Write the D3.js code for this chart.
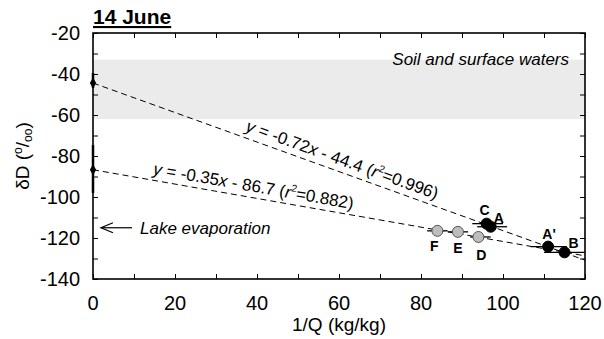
<!DOCTYPE html>
<html>
<head>
<meta charset="utf-8">
<script src="https://cdn.jsdelivr.net/npm/d3@7"></script>
<style>
  body { margin: 0; background: #fff; }
  svg { font-family: "Liberation Sans", Arial, sans-serif; }
</style>
</head>
<body>
<svg id="chart" width="604" height="339"></svg>
<script>
// data
const pointLabels = ['C', 'A', "A'", 'B', 'F', 'E', 'D']
const pointX = [96, 97, 111, 115, 84, 89, 94]
const pointY = [-113, -114.5, -124.2, -127, -116.5, -117, -119.5]
const pointXLo = [92.5, 93.7, 106.7, 110, 81.5, 86.6, 92]
const pointXHi = [100, 101, 115.6, 121, 86.5, 91.5, 97]
const pointGroup = ['black', 'black', 'black', 'black', 'gray', 'gray', 'gray']

const slopes = [-0.72, -0.35]
const intercepts = [-44.4, -86.7]
const interceptLo = [-39.5, -74.6]
const interceptHi = [-46.8, -98]
const fitLabels = ['-0.72x - 44.4 (', '-0.35x - 86.7 (']
const fitR2 = ['0.996', '0.882']

const bandRange = [-33, -62]
const xTicks = [0, 20, 40, 60, 80, 100, 120]
const yTicks = [-20, -40, -60, -80, -100, -120, -140]
const lakeEvapY = -115

let svg = d3.select('#chart')
let m = {l: 93, r: 585, t: 33, b: 279}
let x = d3.scaleLinear().domain([0, 120]).range([m.l, m.r])
let y = d3.scaleLinear().domain([-140, -20]).range([m.b, m.t])

svg.append('defs').append('clipPath').attr('id', 'clip')
  .append('rect').attr('x', m.l).attr('y', m.t).attr('width', m.r - m.l).attr('height', m.b - m.t)

// gray band
svg.append('rect')
  .attr('x', m.l).attr('width', m.r - m.l)
  .attr('y', y(bandRange[0])).attr('height', y(bandRange[1]) - y(bandRange[0]))
  .attr('fill', '#ebebeb')

svg.append('text').text('Soil and surface waters')
  .attr('x', 569).attr('y', 65).attr('text-anchor', 'end')
  .attr('font-size', 17).attr('font-style', 'italic')

// fit lines
let plot = svg.append('g').attr('clip-path', 'url(#clip)')
slopes.forEach((s, i) => {
  plot.append('line')
    .attr('x1', x(0)).attr('y1', y(intercepts[i]))
    .attr('x2', x(120)).attr('y2', y(s * 120 + intercepts[i]))
    .attr('stroke', '#000').attr('stroke-width', 1)
    .attr('stroke-dasharray', '6,4')
})

// fit equations, rotated along the lines
const labelAt = [37, 14.5]
const labelLift = [7, 6]
slopes.forEach((s, i) => {
  let lx = labelAt[i]
  let px = x(lx), py = y(s * lx + intercepts[i]) - labelLift[i]
  let ang = Math.atan2(y(s * 10) - y(0), x(10) - x(0)) * 180 / Math.PI
  let t = svg.append('text')
    .attr('transform', `translate(${px},${py}) rotate(${ang})`)
    .attr('font-size', 17)
  let parts = fitLabels[i].split('x')
  t.append('tspan').attr('font-style', 'italic').text('y')
  t.append('tspan').text(' = ' + parts[0])
  t.append('tspan').attr('font-style', 'italic').text('x')
  t.append('tspan').text(parts[1])
  t.append('tspan').attr('font-style', 'italic').text('r')
  t.append('tspan').attr('font-size', 10).attr('dy', -7).text('2')
  t.append('tspan').attr('dy', 7).text('=' + fitR2[i] + ')')
})

// intercept markers with vertical error bars
intercepts.forEach((v, i) => {
  svg.append('line')
    .attr('x1', x(0)).attr('x2', x(0))
    .attr('y1', y(interceptLo[i])).attr('y2', y(interceptHi[i]))
    .attr('stroke', '#000').attr('stroke-width', 2.5)
  svg.append('path')
    .attr('d', d3.symbol().type(d3.symbolDiamond).size(34)())
    .attr('transform', `translate(${x(0)},${y(v)})`)
    .attr('fill', '#000')
})

// horizontal error bars and points
let pts = pointLabels.map((lab, i) => ({
  lab: lab, x: pointX[i], y: pointY[i], lo: pointXLo[i], hi: pointXHi[i], g: pointGroup[i]
}))
plot.selectAll('.err').data(pts).enter().append('line')
  .attr('x1', d => x(d.lo)).attr('x2', d => x(d.hi))
  .attr('y1', d => y(d.y)).attr('y2', d => y(d.y))
  .attr('stroke', '#000').attr('stroke-width', 1.3)
svg.selectAll('.pt').data(pts).enter().append('circle')
  .attr('cx', d => x(d.x)).attr('cy', d => y(d.y))
  .attr('r', 5.5)
  .attr('fill', d => d.g == 'black' ? '#000' : '#bdbdbd')
  .attr('stroke', d => d.g == 'black' ? '#000' : '#555')
  .attr('stroke-width', 1)

const labelOff = {C: [-2, -9], A: [8, -4], "A'": [1, -8], B: [9, -4], F: [-3, 20], E: [0, 21], D: [3, 23]}
svg.selectAll('.lab').data(pts).enter().append('text')
  .attr('x', d => x(d.x) + labelOff[d.lab][0])
  .attr('y', d => y(d.y) + labelOff[d.lab][1])
  .attr('text-anchor', 'middle')
  .attr('font-size', 14).attr('font-weight', 'bold')
  .text(d => d.lab)

// lake evaporation arrow
let ay = y(lakeEvapY)
svg.append('line')
  .attr('x1', 132).attr('x2', 101)
  .attr('y1', ay).attr('y2', ay)
  .attr('stroke', '#000').attr('stroke-width', 1.2)
svg.append('path')
  .attr('d', `M113,${ay - 5} L101,${ay} L113,${ay + 5}`)
  .attr('fill', 'none').attr('stroke', '#000').attr('stroke-width', 1.2)
svg.append('text').text('Lake evaporation')
  .attr('x', 140).attr('y', ay + 6)
  .attr('font-size', 17).attr('font-style', 'italic')

// axes with inward ticks
let minorX = d3.range(0, 121, 10)
let minorY = d3.range(-140, -19, 10)
svg.append('g').attr('transform', `translate(0,${m.b})`)
  .call(d3.axisTop(x).tickValues(minorX).tickSize(5).tickFormat(''))
svg.append('g').attr('transform', `translate(0,${m.t})`)
  .call(d3.axisBottom(x).tickValues(minorX).tickSize(5).tickFormat(''))
svg.append('g').attr('transform', `translate(${m.l},0)`)
  .call(d3.axisRight(y).tickValues(minorY).tickSize(5).tickFormat(''))
svg.append('g').attr('transform', `translate(${m.r},0)`)
  .call(d3.axisLeft(y).tickValues(minorY).tickSize(5).tickFormat(''))
svg.selectAll('.domain').remove()
svg.selectAll('.tick line').attr('stroke', '#000').attr('stroke-width', 1)

svg.append('rect')
  .attr('x', m.l).attr('y', m.t).attr('width', m.r - m.l).attr('height', m.b - m.t)
  .attr('fill', 'none').attr('stroke', '#000').attr('stroke-width', 1.6)

svg.selectAll('.xt').data(xTicks).enter().append('text')
  .attr('x', d => x(d)).attr('y', 310)
  .attr('text-anchor', 'middle').attr('font-size', 20)
  .text(d => d)
svg.selectAll('.yt').data(yTicks).enter().append('text')
  .attr('x', 80).attr('y', d => y(d) + 7)
  .attr('text-anchor', 'end').attr('font-size', 20)
  .text(d => d)

svg.append('text').text('1/Q (kg/kg)')
  .attr('x', x(60)).attr('y', 331)
  .attr('text-anchor', 'middle').attr('font-size', 19)

let yl = svg.append('text')
  .attr('transform', `translate(29,${(m.t + m.b) / 2}) rotate(-90)`)
  .attr('text-anchor', 'middle').attr('font-size', 19)
yl.append('tspan').text('δD (')
yl.append('tspan').attr('font-size', 12).attr('dy', -7).text('o')
yl.append('tspan').attr('dy', 7).text('/')
yl.append('tspan').attr('font-size', 12).attr('dy', 3).text('oo')
yl.append('tspan').attr('dy', -3).text(')')

// title
svg.append('text').text('14 June')
  .attr('x', m.l).attr('y', 24)
  .attr('font-size', 21).attr('font-weight', 'bold')
  .attr('text-decoration', 'underline')
</script>
</body>
</html>
